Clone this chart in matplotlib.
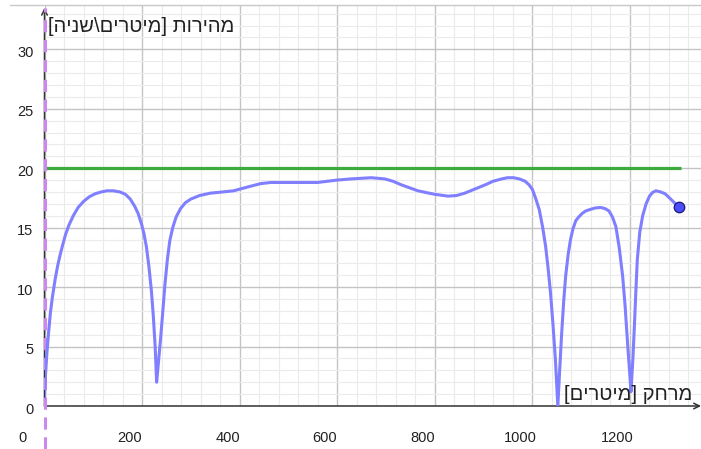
import matplotlib.pyplot as plt
from matplotlib.lines import Line2D
from matplotlib.transforms import ScaledTranslation

# distance [m] and speed [m/s]
distance = [0, 2, 5, 8, 12, 16, 22, 27, 32, 37, 43, 50, 59, 69, 80, 92, 104,
            116, 128, 141, 155, 166, 176, 185, 192, 199, 204, 209, 214, 219,
            223, 227, 230, 234, 238, 242, 247, 252, 257, 263, 270, 279, 289,
            300, 318, 340, 365, 388, 415, 443, 464, 485, 526, 560, 600, 629,
            650, 670, 698, 715, 732, 749, 766, 783, 801, 828, 845, 862, 883,
            904, 920, 938, 950, 962, 974, 986, 994, 1001, 1008, 1015, 1022,
            1028, 1033, 1038, 1043, 1048, 1053, 1057, 1061, 1065, 1069, 1074,
            1079, 1084, 1090, 1096, 1103, 1110, 1117, 1129, 1141, 1150, 1158,
            1165, 1172, 1179, 1186, 1191, 1196, 1200, 1203, 1207, 1210, 1213,
            1216, 1221, 1227, 1234, 1241, 1247, 1254, 1264, 1273, 1282, 1292,
            1302]
speed = [0.7, 2.6, 4.5, 6.0, 7.8, 9.1, 10.7, 11.8, 12.7, 13.5, 14.4, 15.2,
         16.0, 16.7, 17.2, 17.6, 17.85, 18.0, 18.1, 18.1, 18.0, 17.8, 17.4,
         16.8, 16.2, 15.3, 14.5, 13.4, 11.8, 9.8, 7.7, 5.0, 2.0, 3.8, 5.6, 7.6,
         10.2, 12.3, 13.9, 15.0, 15.9, 16.6, 17.1, 17.4, 17.7, 17.9, 18.0, 18.1,
         18.4, 18.7, 18.8, 18.8, 18.8, 18.8, 19.0, 19.1, 19.15, 19.2, 19.1,
         18.9, 18.6, 18.35, 18.1, 17.95, 17.8, 17.65, 17.7, 17.9, 18.25, 18.6,
         18.9, 19.1, 19.2, 19.2, 19.1, 18.9, 18.6, 18.2, 17.4, 16.5, 15.0,
         13.4, 11.6, 9.5, 6.9, 3.9, 0.0, 3.2, 6.2, 8.8, 10.9, 12.7, 14.0, 14.9,
         15.6, 15.9, 16.2, 16.4, 16.5, 16.65, 16.7, 16.6, 16.4, 15.9, 15.1,
         13.3, 10.9, 8.4, 5.3, 3.0, 1.2, 4.0, 6.7, 9.6, 12.3, 14.6, 16.0, 17.0,
         17.65, 17.95, 18.1, 18.0, 17.85, 17.5, 17.1, 16.7]

limit_x = [0, 1305]
limit_y = [20, 20]

x_ticks = [0, 200, 400, 600, 800, 1000, 1200]
y_ticks = [0, 5, 10, 15, 20, 25, 30]

y_label = "מהירות [מיטרים\\שניה]"
x_label = "מרחק [מיטרים]"

FONT = ['Liberation Sans', 'DejaVu Sans']
plt.rcParams['font.family'] = FONT


def visual(s):
    # matplotlib has no bidi: reverse to visual order and mirror brackets
    swap = {'[': ']', ']': '[', '(': ')', ')': '('}
    return ''.join(swap.get(c, c) for c in reversed(s))


W, H = 701, 449
fig = plt.figure(figsize=(W / 100, H / 100), dpi=100)
x0_px, y0_px, top_px = 44.5, 406, 5
ax = fig.add_axes([x0_px / W, (H - y0_px) / H, (W - x0_px) / W, (y0_px - top_px) / H])

ax.set_xlim(0, (W - x0_px) / 0.4875)
ax.set_ylim(0, (y0_px - top_px) / 11.89)

for sp in ax.spines.values():
    sp.set_visible(False)

# grid
ax.set_xticks(x_ticks)
ax.set_yticks(y_ticks)
ax.set_xticks(range(0, 1360, 40), minor=True)
ax.set_yticks(range(0, 34), minor=True)
ax.grid(which='major', color='#c4c4c4', lw=1.0)
ax.grid(which='minor', color='#ebebeb', lw=0.8)
ax.set_axisbelow(True)
ax.tick_params(which='both', length=0)
ax.tick_params(axis='x', pad=18, labelsize=10.5, colors='#222222')
ax.tick_params(axis='y', pad=8, labelsize=10.5, colors='#222222')

for lbl, v in zip(ax.get_xticklabels(), x_ticks):
    dx = -22 if v == 0 else -12
    lbl.set_transform(lbl.get_transform() + ScaledTranslation(dx / 100, 0, fig.dpi_scale_trans))
for lbl in ax.get_yticklabels():
    lbl.set_transform(lbl.get_transform() + ScaledTranslation(0, -2 / 100, fig.dpi_scale_trans))

# axes with arrows
ax.annotate('', xy=(1.0, 0), xytext=(0, 0), xycoords='axes fraction',
            arrowprops=dict(arrowstyle='->', lw=1.1, color='#333333',
                            shrinkA=0, shrinkB=0), annotation_clip=False)
ax.annotate('', xy=(0, 0.993), xytext=(0, 0), xycoords='axes fraction',
            arrowprops=dict(arrowstyle='->', lw=1.1, color='#333333',
                            shrinkA=0, shrinkB=0), annotation_clip=False)

# x = 0 dashed line, runs below the axis to the bottom edge
ax.axvline(0, ymin=-(H - y0_px) / (y0_px - top_px), ymax=0.993, color='#cc88ee',
           lw=2.2, ls=(0, (4, 2.5)), clip_on=False, zorder=4)

ax.plot(limit_x, limit_y, color='#3caa3c', lw=2.3, zorder=3, solid_capstyle='butt')
ax.plot(distance, speed, color='#7f7fff', lw=2.2, zorder=5, solid_joinstyle='round')
ax.plot(distance[-1], speed[-1], 'o', ms=7.5, mfc='#4d4dff', mec='#202080',
        mew=1.0, zorder=6)

# top frame line
fig.add_artist(Line2D([10 / W, 1], [1 - top_px / H] * 2, color='#c8c8c8', lw=1.0))

fig.text(48 / W, 1 - 27 / H, visual(y_label), ha='left', va='center',
         fontsize=14.5, color='#222222')
fig.text(692 / W, 1 - 394 / H, visual(x_label), ha='right', va='center',
         fontsize=14.5, color='#222222')

fig.savefig('out.png', dpi=100)
